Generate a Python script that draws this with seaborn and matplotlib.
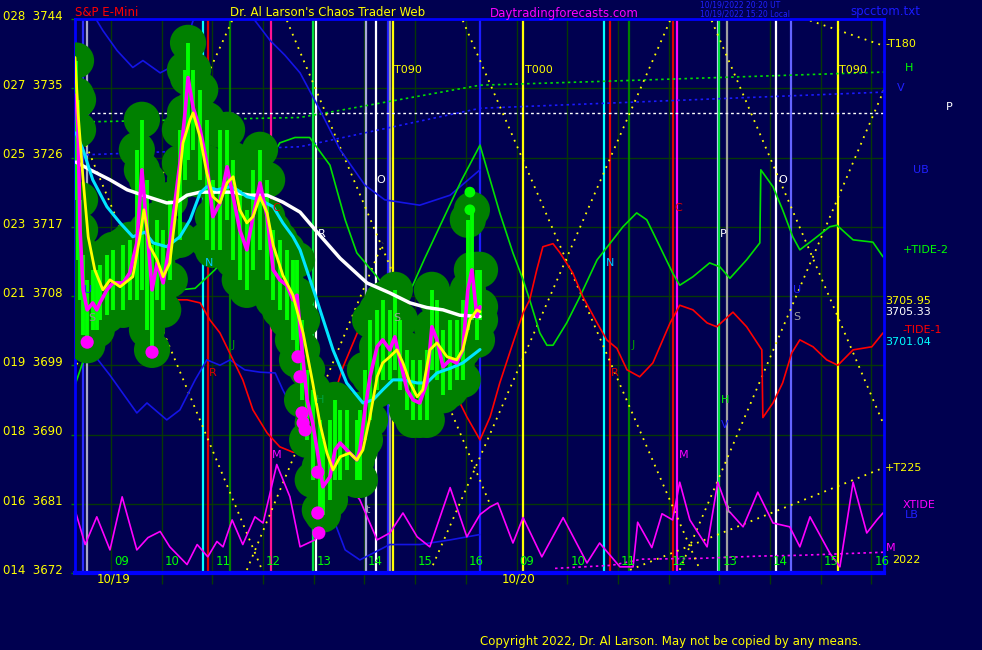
import numpy as np
import pandas as pd
import matplotlib
matplotlib.use('Agg')
from matplotlib import pyplot as plt
from matplotlib.transforms import ScaledTranslation
import seaborn as sns

NAVY = '#000050'

# x axis = session hours, 0 = 09:00 on 10/19, the 10/20 session follows at 8
price_t = [-0.69, -0.65, -0.61, -0.55, -0.47, -0.36, -0.28, -0.22, -0.08, 0.04, 0.24, 0.37, 0.51, 0.61,
           0.71, 0.81, 0.91, 1.03, 1.16, 1.36, 1.46, 1.52, 1.62, 1.76, 1.89, 2.01, 2.15, 2.29, 2.41, 2.54,
           2.68, 2.80, 2.94, 3.08, 3.20, 3.33, 3.47, 3.59, 3.67, 3.77, 3.87, 3.98, 4.12, 4.18, 4.32, 4.42,
           4.52, 4.65, 4.85, 4.91, 5.01, 5.11, 5.25, 5.36, 5.50, 5.60, 5.70, 5.84, 5.96, 6.09, 6.23, 6.33,
           6.43, 6.55, 6.69, 6.82, 6.94, 7.04, 7.12, 7.22, 7.28]
price_close = [3734.1, 3729.6, 3716.6, 3708.8, 3706.2, 3707.1, 3706.2, 3707.1, 3708.8, 3709.7, 3709.7, 3711.0,
               3714.9, 3724.4, 3716.6, 3708.8, 3712.3, 3709.7, 3714.9, 3725.3, 3731.8, 3736.4, 3732.5, 3729.6,
               3725.3, 3718.3, 3720.1, 3724.8, 3720.9, 3716.6, 3714.0, 3718.3, 3722.7, 3718.3, 3711.4, 3710.1,
               3709.4, 3707.5, 3708.1, 3701.0, 3694.5, 3691.5, 3685.8, 3683.2, 3684.5, 3688.0, 3688.9, 3688.0,
               3686.7, 3688.0, 3693.2, 3697.5, 3701.4, 3702.3, 3701.0, 3702.7, 3699.7, 3695.8, 3694.5, 3694.1,
               3696.7, 3704.0, 3702.3, 3698.8, 3699.7, 3699.3, 3701.0, 3708.8, 3711.4, 3705.3, 3706.6]
price_hi = [3738.6, 3733.5, 3720.5, 3713.3, 3710.1, 3711.4, 3711.4, 3712.0, 3713.3, 3714.0, 3714.6, 3715.3,
            3727.0, 3730.9, 3723.1, 3714.6, 3717.9, 3716.6, 3720.5, 3729.6, 3737.4, 3740.9, 3737.4, 3734.8,
            3730.9, 3723.1, 3729.6, 3729.6, 3725.7, 3721.8, 3719.2, 3724.4, 3727.0, 3723.1, 3716.6, 3715.3,
            3714.0, 3712.7, 3712.7, 3704.9, 3698.4, 3695.8, 3691.9, 3689.3, 3691.9, 3694.5, 3693.2, 3693.2,
            3691.9, 3693.2, 3698.4, 3704.9, 3706.2, 3707.5, 3706.2, 3708.8, 3704.9, 3701.0, 3699.7, 3699.7,
            3701.0, 3708.8, 3707.5, 3703.6, 3704.9, 3704.9, 3707.5, 3717.9, 3719.2, 3711.4, 3711.4]
price_lo = [3720.5, 3712.7, 3707.5, 3702.9, 3701.6, 3703.6, 3703.6, 3704.9, 3705.5, 3706.2, 3706.2, 3707.5,
            3707.5, 3708.8, 3703.6, 3701.0, 3707.5, 3706.2, 3710.1, 3715.3, 3723.1, 3725.7, 3727.0, 3723.1,
            3715.3, 3714.0, 3714.0, 3717.9, 3712.7, 3710.1, 3708.8, 3711.4, 3714.0, 3710.1, 3707.5, 3706.2,
            3704.9, 3702.3, 3699.7, 3694.5, 3689.3, 3684.1, 3680.2, 3679.6, 3681.5, 3684.1, 3684.1, 3685.4,
            3684.1, 3684.1, 3689.3, 3691.9, 3695.8, 3697.1, 3697.1, 3698.4, 3695.8, 3693.2, 3691.9, 3691.9,
            3691.9, 3698.4, 3697.1, 3695.1, 3695.8, 3697.1, 3697.1, 3703.6, 3704.9, 3702.3, 3704.9]

fast_t = [-0.71, -0.65, -0.55, -0.45, -0.32, -0.16, -0.02, 0.18, 0.43, 0.57, 0.65, 0.77, 0.91, 1.03, 1.16,
          1.30, 1.42, 1.56, 1.62, 1.76, 1.89, 2.01, 2.15, 2.29, 2.41, 2.54, 2.68, 2.80, 2.94, 3.08, 3.20,
          3.39, 3.59, 3.79, 3.98, 4.12, 4.26, 4.38, 4.52, 4.71, 4.85, 4.97, 5.11, 5.25, 5.36, 5.50, 5.64,
          5.76, 5.90, 6.04, 6.15, 6.29, 6.43, 6.63, 6.82, 6.94, 7.08, 7.22, 7.28]
fast_ma = [3739.0, 3731.8, 3723.1, 3715.7, 3711.4, 3708.8, 3710.1, 3709.2, 3710.5, 3715.7, 3719.2, 3714.4,
           3712.7, 3710.5, 3712.3, 3720.1, 3727.9, 3730.9, 3731.8, 3728.6, 3724.0, 3720.9, 3720.1, 3722.7,
           3723.5, 3719.2, 3717.5, 3718.3, 3720.9, 3718.8, 3714.6, 3710.7, 3708.1, 3703.2, 3696.7, 3691.5,
           3687.6, 3685.4, 3687.1, 3687.6, 3686.7, 3688.0, 3692.3, 3697.5, 3699.3, 3700.1, 3701.0, 3699.3,
           3696.7, 3694.9, 3695.8, 3701.0, 3701.9, 3700.1, 3699.7, 3701.0, 3704.9, 3706.2, 3705.95]

slow_t = [-0.69, -0.55, -0.36, -0.08, 0.18, 0.43, 0.67, 0.83, 1.10, 1.36, 1.56, 1.76, 1.89, 2.09, 2.35,
          2.49, 2.68, 2.94, 3.20, 3.39, 3.59, 3.73, 4.06, 4.38, 4.65, 4.97, 5.17, 5.36, 5.56, 5.76, 6.04,
          6.23, 6.43, 6.69, 6.94, 7.28]
slow_ma = [3729.2, 3727.0, 3723.1, 3719.6, 3717.5, 3715.7, 3716.3, 3714.9, 3714.4, 3715.7, 3717.9, 3721.4,
           3722.2, 3721.8, 3722.2, 3721.8, 3720.9, 3720.5, 3719.6, 3717.5, 3715.7, 3714.0, 3707.5, 3701.0,
           3696.7, 3694.1, 3694.5, 3695.8, 3697.1, 3697.1, 3696.7, 3696.7, 3698.0, 3698.6, 3699.3, 3701.04]

long_t = [-0.69, -0.41, -0.02, 0.32, 0.63, 0.91, 1.10, 1.30, 1.50, 1.76, 2.09, 2.41, 2.74, 3.08, 3.39,
          3.73, 4.12, 4.52, 5.05, 5.50, 5.90, 6.23, 6.55, 6.88, 7.28]
long_ma = [3725.4, 3724.4, 3723.1, 3721.8, 3721.1, 3720.5, 3720.1, 3720.2, 3721.1, 3721.5, 3721.5, 3721.5,
           3721.1, 3721.1, 3720.2, 3718.9, 3715.9, 3712.9, 3709.7, 3708.4, 3707.1, 3706.5, 3706.2, 3705.5,
           3705.33]

pink_dot_t = [-0.47, 0.81, 3.69, 3.73, 3.77, 3.79, 3.83, 4.08, 4.08, 4.10]
pink_dot_p = [3702.0, 3700.7, 3700.1, 3697.5, 3692.8, 3691.5, 3690.6, 3685.1, 3679.8, 3677.2]
lime_dot_t = [7.08, 7.08]
lime_dot_p = [3721.5, 3719.2]

tide2_t = [-0.71, -0.51, -0.28, -0.02, 0.28, 0.57, 0.77, 1.07, 1.36, 1.66, 2.05, 2.45, 2.84, 3.14, 3.33,
           3.63, 3.92, 4.32, 4.62, 4.85, 5.25, 5.50, 5.74, 5.94, 6.19, 6.59, 6.92, 7.28, 7.67, 7.93, 8.13,
           8.26, 8.46, 8.60, 8.72, 8.99, 9.25, 9.59, 9.90, 10.10, 10.37, 10.57, 10.83, 11.08, 11.22, 11.48,
           11.81, 12.01, 12.21, 12.54, 12.80, 12.82, 13.06, 13.25, 13.45, 13.59, 13.85, 14.18, 14.32, 14.64,
           15.03, 15.23]
tide2 = [3696.4, 3700.3, 3704.9, 3708.1, 3710.7, 3712.4, 3712.3, 3709.4, 3708.8, 3709.0, 3711.4, 3714.6,
         3720.5, 3725.7, 3727.9, 3728.6, 3728.6, 3725.0, 3717.9, 3713.6, 3710.5, 3708.1, 3707.9, 3709.2,
         3712.9, 3718.5, 3723.1, 3727.6, 3718.8, 3713.6, 3710.1, 3707.5, 3703.2, 3701.6, 3701.6, 3704.5,
         3707.9, 3712.7, 3715.3, 3717.0, 3718.8, 3717.9, 3714.4, 3711.0, 3709.4, 3710.5, 3712.3, 3711.8,
         3710.3, 3712.7, 3714.9, 3724.4, 3722.2, 3719.2, 3715.7, 3714.0, 3715.3, 3717.0, 3717.2, 3715.3,
         3715.0, 3713.1]

tide1_t = [-0.67, -0.47, -0.22, 0.12, 0.43, 0.71, 0.97, 1.22, 1.50, 1.76, 1.95, 2.15, 2.60, 2.80, 3.08,
           3.33, 3.59, 3.87, 4.06, 4.26, 4.58, 4.91, 5.36, 5.50, 5.70, 5.90, 6.15, 6.43, 6.69, 7.02, 7.28,
           7.48, 7.67, 7.93, 8.13, 8.26, 8.40, 8.52, 8.72, 8.86, 9.11, 9.31, 9.59, 9.78, 9.98, 10.18, 10.43,
           10.69, 11.03, 11.22, 11.48, 11.76, 11.95, 12.27, 12.54, 12.84, 12.86, 13.06, 13.25, 13.43, 13.59,
           13.85, 14.12, 14.34, 14.64, 15.01, 15.23]
tide1 = [3719.2, 3715.7, 3711.4, 3707.9, 3704.9, 3704.5, 3705.3, 3707.5, 3707.5, 3707.1, 3704.9, 3703.2,
         3697.1, 3693.2, 3690.2, 3688.4, 3687.7, 3687.7, 3689.3, 3692.3, 3698.8, 3704.0, 3707.5, 3708.4,
         3708.4, 3706.6, 3702.3, 3699.7, 3696.7, 3692.3, 3689.3, 3692.3, 3696.7, 3701.9, 3705.8, 3707.5,
         3711.4, 3714.4, 3714.8, 3713.6, 3711.0, 3707.9, 3704.5, 3702.3, 3701.2, 3698.4, 3697.5, 3699.3,
         3704.5, 3706.8, 3706.2, 3704.5, 3704.0, 3705.9, 3704.0, 3701.0, 3692.2, 3694.1, 3696.7, 3700.6,
         3702.3, 3701.4, 3699.7, 3699.0, 3701.0, 3701.4, 3703.2]

xtide_t = [-0.71, -0.51, -0.28, -0.02, 0.22, 0.51, 0.73, 0.97, 1.16, 1.50, 1.70, 1.91, 2.09, 2.21, 2.39,
           2.60, 2.84, 3.00, 3.27, 3.53, 3.73, 4.02, 4.26, 4.46, 4.65, 4.91, 5.25, 5.50, 5.76, 6.04, 6.29,
           6.69, 7.02, 7.28, 7.48, 7.63, 7.93, 8.13, 8.50, 8.92, 9.39, 9.64, 10.04, 10.30, 10.39, 10.67,
           10.87, 11.08, 11.22, 11.42, 11.76, 11.97, 12.17, 12.47, 12.76, 13.06, 13.39, 13.59, 13.79, 14.18,
           14.38, 14.64, 14.91, 15.11, 15.23]
xtide = [3680.2, 3675.7, 3679.3, 3675.0, 3681.9, 3675.0, 3676.6, 3677.4, 3675.4, 3673.1, 3675.7, 3674.1,
         3676.1, 3675.4, 3678.9, 3675.7, 3679.3, 3678.5, 3686.1, 3681.9, 3675.4, 3676.3, 3679.3, 3681.5,
         3683.7, 3681.5, 3676.3, 3677.2, 3679.8, 3676.7, 3675.4, 3683.1, 3676.7, 3679.6, 3680.6, 3681.1,
         3675.9, 3679.2, 3674.1, 3679.2, 3673.3, 3675.9, 3672.8, 3672.8, 3678.6, 3675.3, 3679.7, 3678.9,
         3683.8, 3678.9, 3675.4, 3683.8, 3680.2, 3678.0, 3682.5, 3678.5, 3678.0, 3675.4, 3679.3, 3674.6,
         3672.8, 3683.8, 3677.2, 3678.9, 3679.8]

ub_t = [-0.28, -0.16, 0.12, 0.43, 0.63, 0.97, 1.26, 1.46, 1.62, 2.25, 2.84, 3.14, 3.43, 3.73, 4.12, 4.52,
        5.01, 5.40, 6.09, 6.69, 7.28]
ub = [3743.8, 3742.5, 3739.9, 3737.7, 3738.6, 3737.0, 3738.0, 3740.6, 3743.8, 3745.8, 3743.8, 3741.2,
      3739.3, 3737.0, 3732.2, 3727.0, 3722.4, 3720.5, 3719.8, 3721.1, 3724.4]
lb_t = [-0.71, -0.41, -0.02, 0.51, 0.71, 1.10, 1.36, 1.66, 1.89, 2.15, 2.35, 2.64, 2.94, 3.24, 3.39, 3.73,
        3.98, 4.32, 4.62, 4.91, 5.50, 6.09, 6.69, 7.28]
lb = [3702.3, 3701.0, 3697.7, 3692.8, 3694.1, 3691.9, 3693.2, 3697.1, 3699.7, 3699.0, 3699.7, 3698.4,
      3698.1, 3698.0, 3695.8, 3691.5, 3688.9, 3680.2, 3675.0, 3673.7, 3675.7, 3675.7, 3676.3, 3677.0]

m_line_t = [8.76, 9.88, 10.47, 11.62, 12.80, 13.59, 15.25]
m_line = [3672.6, 3673.0, 3673.8, 3673.9, 3674.2, 3674.3, 3674.7]

h_line_t = [-0.71, 3.73, 7.28, 9.71, 15.25]
h_line = [3730.6, 3731.2, 3735.4, 3735.9, 3737.1]
v_line_t = [-0.71, 3.73, 7.28, 15.25]
v_line = [3726.3, 3727.4, 3732.4, 3734.5]
p_level = 3731.8

# yellow dotted swing lines: start t, start price, end t, end price
swing_t0 = [2.68, 3.47, 2.39, -0.71, 6.94, 11.03, 11.85, 11.22, 13.79, 10.24]
swing_p0 = [3672.4, 3743.8, 3743.8, 3731.1, 3743.8, 3743.8, 3743.8, 3672.4, 3743.8, 3672.4]
swing_t1 = [5.36, 7.48, -0.71, 2.98, 11.62, 6.31, 15.25, 15.25, 15.25, 15.25]
swing_p1 = [3714.9, 3680.9, 3698.6, 3672.4, 3672.4, 3672.4, 3691.2, 3734.8, 3740.5, 3685.7]

marker_t = [-0.55, -0.47, 1.81, 1.91, 2.35, 3.16, 3.98, 4.04, 5.03, 5.23, 5.46, 5.50, 5.56, 7.28, 8.13,
            9.72, 9.84, 10.22, 11.08, 11.16, 11.97, 11.99, 12.15, 13.12, 13.41, 14.34]
marker_col = ['#2a2aff', '#a8a8c8', '#00ffff', '#e00000', '#008000', '#ff1493', '#00e040', '#ffffff',
              '#a8a8d8', '#ffffff', '#2020ff', '#a0a0a0', '#ffff00', '#1c1cff', '#ffff00', '#00ffff',
              '#e00000', '#008000', '#e00000', '#ff00ff', '#c8c8ff', '#00e040', '#a0a0a0', '#ffffff',
              '#6464ff', '#ffff00']

letters = ['O', 'R', 'N', 'U', 'S', 'J', 'R', 'C', 'M', 't', 'S', 'H',
           'C', 'N', 'P', 'O', 'U', 'S', 'J', 'R', 'H', 'V', 'M', 't']
letter_t = [5.33, 4.16, 1.93, -0.45, -0.37, 2.41, 2.01, 3.27, 3.27, 5.07, 5.64, 4.12,
            11.20, 9.84, 12.07, 13.25, 13.53, 13.53, 10.30, 9.94, 12.11, 12.11, 11.30, 12.19]
letter_p = [3723.1, 3716.1, 3712.3, 3708.8, 3705.1, 3701.6, 3698.0, 3719.4, 3687.4, 3680.2, 3705.1, 3694.5,
            3719.4, 3712.3, 3716.1, 3723.1, 3708.8, 3705.3, 3701.6, 3698.0, 3694.5, 3691.2, 3687.4, 3680.2]
letter_col = ['#ffffff', '#ffffff', '#00c8ff', '#2020ff', '#909090', '#00a000', '#e00000', '#e00000',
              '#ff00ff', '#a0a0a0', '#a0a0a0', '#00a040',
              '#e00000', '#00c8ff', '#ffffff', '#ffffff', '#2020ff', '#a0a0a0', '#00a000', '#e00000',
              '#00ff00', '#2020ff', '#ff00ff', '#a0a0a0']

turn_labels = ['T090', 'T000', 'T090']
turn_t = [5.86, 8.44, 14.64]

y_ticks = [3672, 3681, 3690, 3699, 3708, 3717, 3726, 3735, 3744]
y_codes = ['014', '016', '018', '019', '021', '023', '025', '027', '028']
hour_labels = ['09', '10', '11', '12', '13', '14', '15', '16'] * 2

right_labels = ['-T180', 'H', 'V', 'P', 'UB', '+TIDE-2', '3705.95', '3705.33', '-TIDE-1', '3701.04',
                '+T225', 'XTIDE', 'LB', 'M', '2022']
right_t = [15.27, 15.66, 15.50, 16.47, 15.82, 15.62, 15.27, 15.27, 15.62, 15.27, 15.27, 15.62, 15.66,
           15.29, 15.41]
right_p = [3740.7, 3737.6, 3735.0, 3732.5, 3724.4, 3714.0, 3707.4, 3705.9, 3703.6, 3702.0, 3685.7, 3680.9,
           3679.6, 3675.3, 3673.7]
right_col = ['#ffff00', '#00ff00', '#2020ff', '#ffffff', '#2020ff', '#00ff00', '#ffff00', '#ffffff',
             '#ff0000', '#00ffff', '#ffff00', '#ff00ff', '#2020ff', '#ff00ff', '#ffff00']

sns.set_style('dark', {'axes.facecolor': NAVY, 'figure.facecolor': NAVY})
plt.rcParams['font.family'] = ['DejaVu Sans']

fig = plt.figure(figsize=(9.82, 6.5), dpi=100)
ax = fig.add_axes([75 / 982, 77 / 650, 809 / 982, 554 / 650])
ax.set_facecolor(NAVY)
ax.set_xlim(-0.71, 15.25)
ax.set_ylim(3672, 3744)

for y in y_ticks[1:-1]:
    ax.axhline(y, color='#063806', lw=1, zorder=0.5)
for h in range(16):
    ax.axvline(h, color='#063806', lw=1, zorder=0.5)

for t, c in zip(marker_t, marker_col):
    ax.axvline(t, color=c, lw=1.6, zorder=1)

# level lines
ax.axhline(p_level, color='white', lw=1, ls=(0, (2, 2)), zorder=1.5)
sns.lineplot(x=h_line_t, y=h_line, color='#00e000', lw=1.2, ls=(0, (1.5, 2)), ax=ax, zorder=1.5,
             estimator=None, sort=False)
sns.lineplot(x=v_line_t, y=v_line, color='#1a1aff', lw=1.2, ls=(0, (1.5, 2)), ax=ax, zorder=1.5,
             estimator=None, sort=False)
sns.lineplot(x=m_line_t, y=m_line, color='#ff00ff', lw=1.2, ls=(0, (1.5, 2)), ax=ax, zorder=1.5,
             estimator=None, sort=False)

for a, b, c, d in zip(swing_t0, swing_p0, swing_t1, swing_p1):
    sns.lineplot(x=[a, c], y=[b, d], color='#ffff00', lw=1.3, ls=(0, (1, 3)), ax=ax, zorder=1.6,
                 estimator=None, sort=False)

sns.lineplot(x=ub_t, y=ub, color='#1414e6', lw=1.2, ax=ax, zorder=2, estimator=None, sort=False)
sns.lineplot(x=lb_t, y=lb, color='#1414e6', lw=1.2, ax=ax, zorder=2, estimator=None, sort=False)
sns.lineplot(x=tide2_t, y=tide2, color='#00e000', lw=1.2, ax=ax, zorder=2, estimator=None, sort=False)
sns.lineplot(x=tide1_t, y=tide1, color='#ff0000', lw=1.2, ax=ax, zorder=2, estimator=None, sort=False)
sns.lineplot(x=xtide_t, y=xtide, color='#ff00ff', lw=1.2, ax=ax, zorder=2, estimator=None, sort=False)

# price cloud
blobs = pd.DataFrame({'t': price_t * 3, 'p': price_close + price_hi + price_lo})
sns.scatterplot(data=blobs, x='t', y='p', s=680, color='#008000', edgecolor='none', ax=ax, zorder=3,
                legend=False)
ax.vlines(price_t, price_lo, price_hi, color='#00ff00', lw=2.8, zorder=3.5)

sns.lineplot(x=long_t, y=long_ma, color='white', lw=2.5, ax=ax, zorder=4, estimator=None, sort=False)
sns.lineplot(x=slow_t, y=slow_ma, color='#00e5ff', lw=2.2, ax=ax, zorder=4, estimator=None, sort=False)
sns.lineplot(x=price_t, y=price_close, color='#ff00ff', lw=2.6, ax=ax, zorder=4.5, estimator=None,
             sort=False)
sns.lineplot(x=fast_t, y=fast_ma, color='#ffff00', lw=2, ax=ax, zorder=4.6, estimator=None, sort=False)
sns.scatterplot(x=pink_dot_t, y=pink_dot_p, s=90, color='#ff00ff', edgecolor='none', ax=ax, zorder=5,
                legend=False)
sns.scatterplot(x=lime_dot_t, y=lime_dot_p, s=60, color='#00ff00', edgecolor='none', ax=ax, zorder=5,
                legend=False)

for s, t, p, c in zip(letters, letter_t, letter_p, letter_col):
    ax.text(t, p, s, color=c, fontsize=8, ha='center', va='center', zorder=6)
for s, t in zip(turn_labels, turn_t):
    ax.text(t, 3737.4, s, color='#ffff00', fontsize=8, ha='center', va='center', zorder=6)
for h, s in enumerate(hour_labels):
    ax.text(h + 0.06, 3672.6, s, color='#00ff00', fontsize=8.5, ha='left', va='bottom', zorder=6)
for s, t, p, c in zip(right_labels, right_t, right_p, right_col):
    ax.text(t, p, s, color=c, fontsize=8, ha='left', va='center', clip_on=False)

# axes frame and ticks
for side in ['left', 'right', 'top', 'bottom']:
    ax.spines[side].set_visible(True)
    ax.spines[side].set_color('#0000ff')
    ax.spines[side].set_linewidth(2)
ax.spines['bottom'].set_linewidth(3)
ax.set_yticks(y_ticks)
ax.set_yticklabels([c + '  ' + str(v) for c, v in zip(y_codes, y_ticks)])
ax.set_xticks(range(16))
ax.set_xticklabels([])
ax.tick_params(axis='y', colors='#008000', labelcolor='#ffff00', length=3, width=1, labelsize=8.5,
               pad=6, left=True)
ax.tick_params(axis='x', colors='#063806', length=8, width=1, bottom=True)
for lab in ax.get_yticklabels():
    lab.set_transform(lab.get_transform() + ScaledTranslation(0, 3 / 72, fig.dpi_scale_trans))
ax.set_xlabel('')
ax.set_ylabel('')
ax.grid(False)

fig.text(75 / 982, 1 - 13 / 650, 'S&P E-Mini', color='#ff0000', fontsize=8.5, va='center')
fig.text(230 / 982, 1 - 13 / 650, "Dr. Al Larson's Chaos Trader Web", color='#ffff00', fontsize=8.5,
         va='center')
fig.text(490 / 982, 1 - 13 / 650, 'Daytradingforecasts.com', color='#ff00ff', fontsize=8.5, va='center')
fig.text(700 / 982, 1 - 5 / 650, '10/19/2022 20:20 UT', color='#2020ff', fontsize=5.5, va='center')
fig.text(700 / 982, 1 - 14 / 650, '10/19/2022 15:20 Local', color='#2020ff', fontsize=5.5, va='center')
fig.text(850 / 982, 1 - 12 / 650, 'spcctom.txt', color='#1a1aff', fontsize=8.5, va='center')
fig.text(97 / 982, 1 - 579 / 650, '10/19', color='#ffff00', fontsize=8.5, va='center')
fig.text(502 / 982, 1 - 579 / 650, '10/20', color='#ffff00', fontsize=8.5, va='center')
fig.text(480 / 982, 1 - 642 / 650, 'Copyright 2022, Dr. Al Larson. May not be copied by any means.',
         color='#ffff00', fontsize=8.5, va='center')

fig.savefig('out.png', dpi=100, facecolor=NAVY)
